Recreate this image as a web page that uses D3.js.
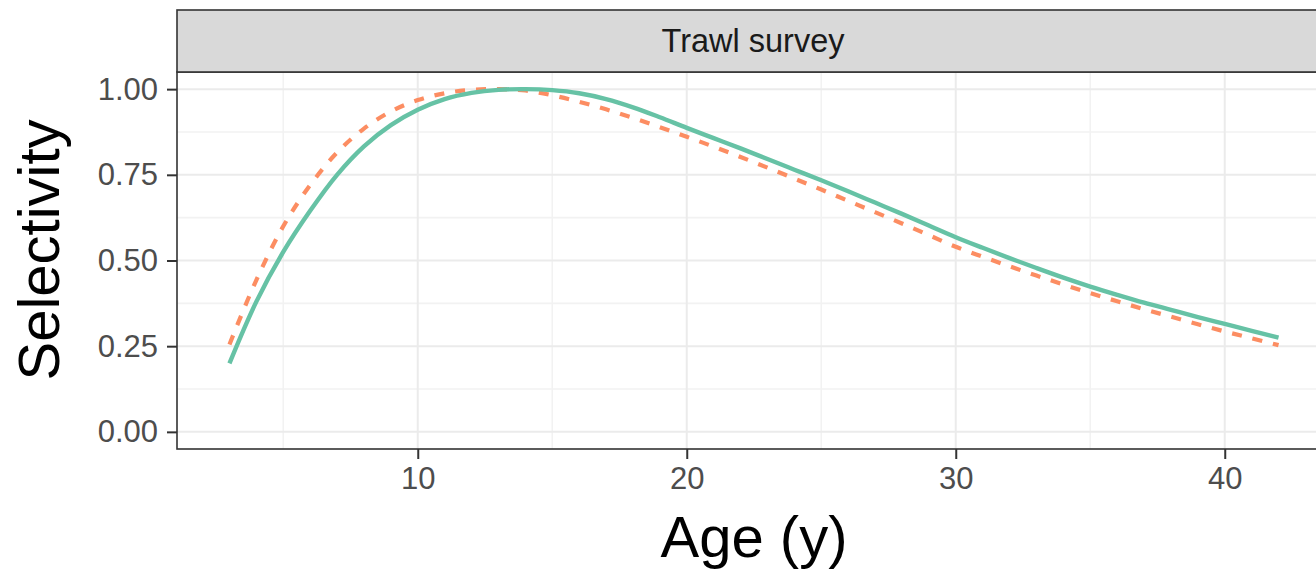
<!DOCTYPE html>
<html>
<head>
<meta charset="utf-8">
<script src="https://cdn.jsdelivr.net/npm/d3@7"></script>
<style>
  html, body { margin: 0; padding: 0; background: #fff; }
  svg { display: block; font-family: "Liberation Sans", Arial, sans-serif; }
</style>
</head>
<body>
<svg id="chart" width="1316" height="569"></svg>
<script>
// Selectivity-at-age curves for the trawl survey
const ages = [3,4,5,6,7,8,9,10,11,12,13,14,15,16,17,18,19,20,21,22,23,24,25,26,27,28,29,30,31,32,33,34,35,36,37,38,39,40,41,42];
const selectivityA = [0.200,0.380,0.525,0.645,0.750,0.833,0.895,0.940,0.971,0.989,0.998,1.000,0.997,0.988,0.971,0.947,0.918,0.887,0.857,0.827,0.796,0.765,0.734,0.702,0.669,0.636,0.602,0.568,0.537,0.507,0.478,0.450,0.424,0.400,0.377,0.356,0.335,0.315,0.295,0.275];
const selectivityB = [0.255,0.443,0.600,0.720,0.815,0.885,0.935,0.968,0.988,0.998,1.000,0.996,0.982,0.963,0.941,0.916,0.889,0.861,0.832,0.802,0.771,0.739,0.707,0.674,0.641,0.608,0.574,0.540,0.511,0.483,0.456,0.430,0.405,0.381,0.358,0.336,0.314,0.293,0.273,0.253];
const xTicks = [10, 20, 30, 40];
const xMinor = [5, 15, 25, 35, 45];
const yTicks = [0, 0.25, 0.5, 0.75, 1];
const yMinor = [0.125, 0.375, 0.625, 0.875];
const yTickLabels = ["0.00", "0.25", "0.50", "0.75", "1.00"];
const facetLabel = "Trawl survey";

const svg = d3.select("#chart");

const panel = { left: 177, right: 1331, top: 72, bottom: 449 };
const stripTop = 10;

const xPad = (d3.max(ages) - d3.min(ages)) * 0.05;
const x = d3.scaleLinear()
  .domain([d3.min(ages) - xPad, d3.max(ages) + xPad])
  .range([panel.left, panel.right]);
const y = d3.scaleLinear()
  .domain([-0.05, 1.05])
  .range([panel.bottom, panel.top]);

// panel background
svg.append("rect")
  .attr("x", panel.left).attr("y", panel.top)
  .attr("width", panel.right - panel.left).attr("height", panel.bottom - panel.top)
  .attr("fill", "#fff");

// grid
const grid = svg.append("g");
grid.selectAll(".ymin").data(yMinor).join("line")
  .attr("x1", panel.left).attr("x2", panel.right)
  .attr("y1", d => y(d)).attr("y2", d => y(d))
  .attr("stroke", "#F2F2F2").attr("stroke-width", 1.6);
grid.selectAll(".xmin").data(xMinor).join("line")
  .attr("y1", panel.top).attr("y2", panel.bottom)
  .attr("x1", d => x(d)).attr("x2", d => x(d))
  .attr("stroke", "#F2F2F2").attr("stroke-width", 1.6);
grid.selectAll(".ymaj").data(yTicks).join("line")
  .attr("x1", panel.left).attr("x2", panel.right)
  .attr("y1", d => y(d)).attr("y2", d => y(d))
  .attr("stroke", "#EBEBEB").attr("stroke-width", 2);
grid.selectAll(".xmaj").data(xTicks).join("line")
  .attr("y1", panel.top).attr("y2", panel.bottom)
  .attr("x1", d => x(d)).attr("x2", d => x(d))
  .attr("stroke", "#EBEBEB").attr("stroke-width", 2);

// curves
const line = d3.line()
  .x((d, i) => x(ages[i]))
  .y(d => y(d))
  .curve(d3.curveCatmullRom);

svg.append("path")
  .attr("d", line(selectivityB))
  .attr("fill", "none")
  .attr("stroke", "#FC8D62")
  .attr("stroke-width", 4.2)
  .attr("stroke-dasharray", "10,11");

svg.append("path")
  .attr("d", line(selectivityA))
  .attr("fill", "none")
  .attr("stroke", "#66C2A5")
  .attr("stroke-width", 4.4);

// panel border
svg.append("rect")
  .attr("x", panel.left).attr("y", panel.top)
  .attr("width", panel.right - panel.left).attr("height", panel.bottom - panel.top)
  .attr("fill", "none").attr("stroke", "#333333").attr("stroke-width", 1.6);

// facet strip
svg.append("rect")
  .attr("x", panel.left).attr("y", stripTop)
  .attr("width", panel.right - panel.left).attr("height", panel.top - stripTop)
  .attr("fill", "#D9D9D9").attr("stroke", "#333333").attr("stroke-width", 1.6);
svg.append("text")
  .attr("x", (panel.left + panel.right) / 2 - 1)
  .attr("y", (stripTop + panel.top) / 2 + 11)
  .attr("text-anchor", "middle")
  .attr("font-size", 32.5)
  .attr("fill", "#1A1A1A")
  .text(facetLabel);

// y axis
const yAxis = svg.append("g")
  .attr("transform", `translate(${panel.left},0)`)
  .call(d3.axisLeft(y).tickValues(yTicks).tickSize(10).tickPadding(9)
    .tickFormat((d, i) => yTickLabels[i]));
yAxis.select(".domain").remove();
yAxis.selectAll(".tick line").attr("stroke", "#333333").attr("stroke-width", 2);
yAxis.selectAll(".tick text")
  .attr("font-size", 31).attr("fill", "#4D4D4D")
  .attr("font-family", "Liberation Sans, Arial, sans-serif");

// x axis
const xAxis = svg.append("g")
  .attr("transform", `translate(0,${panel.bottom})`)
  .call(d3.axisBottom(x).tickValues(xTicks).tickSize(10).tickPadding(8));
xAxis.select(".domain").remove();
xAxis.selectAll(".tick line").attr("stroke", "#333333").attr("stroke-width", 2);
xAxis.selectAll(".tick text")
  .attr("font-size", 31).attr("fill", "#4D4D4D")
  .attr("font-family", "Liberation Sans, Arial, sans-serif");

// axis titles
svg.append("text")
  .attr("transform", "translate(59,250) rotate(-90)")
  .attr("text-anchor", "middle")
  .attr("font-size", 58)
  .attr("fill", "#000")
  .text("Selectivity");

svg.append("text")
  .attr("x", 754)
  .attr("y", 557)
  .attr("text-anchor", "middle")
  .attr("font-size", 58)
  .attr("fill", "#000")
  .text("Age (y)");
</script>
</body>
</html>
